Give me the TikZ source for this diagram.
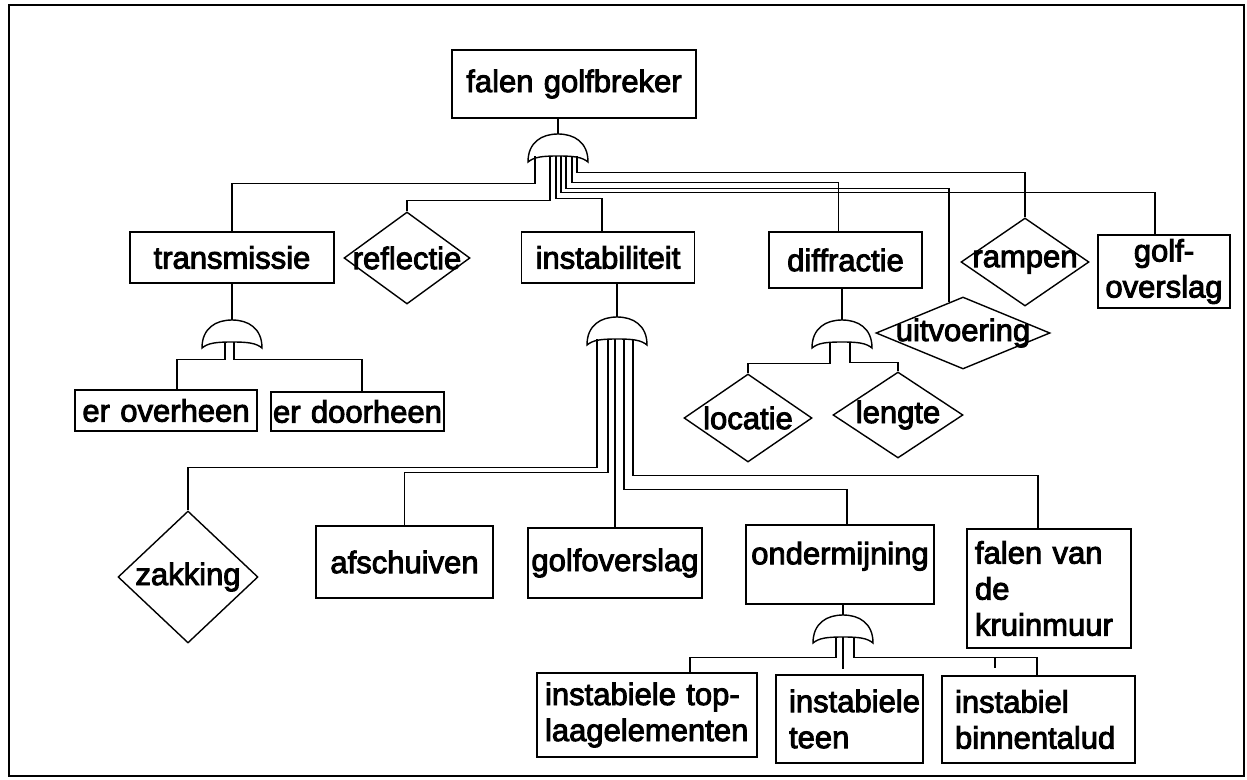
\documentclass[tikz,border=0pt]{standalone}
\usepackage{fontspec}
\newfontfamily\dfont{Liberation Sans}[FakeBold=3]
\usetikzlibrary{shapes.geometric,calc}
\tikzset{
  txt/.style={font=\dfont\fontsize{31}{36}\selectfont},
  ln/.style={line width=1.3pt},
  box/.style={draw, line width=1.5pt, inner sep=0pt, align=center, txt},
  lbox/.style={box, align=left, inner xsep=8pt},
  dia/.style={draw, diamond, line width=1.4pt, inner sep=0pt, txt},
  pics/andgate/.style={code={
    \draw[line width=1.4pt] (-30,28) .. controls (-30,8) and (-16,0) .. (0,0)
      .. controls (16,0) and (30,8) .. (30,28)
      .. controls (24,23) and (16,22) .. (0,22)
      .. controls (-16,22) and (-24,23) .. (-30,28) -- cycle;
    \coordinate (-top) at (0,0);
    \coordinate (-b) at (0,22);
  }}
}
\begin{document}
\begin{tikzpicture}[x=1pt,y=-1pt]
\useasboundingbox (0,0) rectangle (1247,779);
\draw[line width=2.2pt] (9,5) rectangle (1244,776);

% top level
\node[box, text width=244pt, minimum height=68pt] (top) at (574,84) {\raisebox{5pt}{falen golfbreker}};
\pic (g1) at (558,134) {andgate};

% second level
\node[box, text width=204pt, minimum height=51pt] (trans) at (232,257.5) {transmissie};
\node[dia, minimum width=126pt, minimum height=92pt] (refl) at (407,258) {\makebox[0pt]{reflectie}};
\node[box, text width=173pt, minimum height=51pt] (instab) at (608,257.5) {instabiliteit};
\node[box, text width=153pt, minimum height=56pt] (diffr) at (845.5,260) {diffractie};
\node[dia, minimum width=128pt, minimum height=88pt] (ramp) at (1025,262) {\makebox[0pt]{rampen}};
\node[box, text width=132pt, minimum height=73pt] (gov) at (1164,271.5) {golf-\\overslag};
\node[dia, minimum width=174pt, minimum height=72pt] (uitv) at (963,333) {\makebox[0pt]{uitvoering}};

% gates level 2
\pic (gT) at (232,320) {andgate};
\pic (gI) at (617,317) {andgate};
\pic (gD) at (842,320) {andgate};

% third level
\node[box, text width=182pt, minimum height=41pt] (erover) at (166,410.5) {er overheen};
\node[box, text width=173pt, minimum height=39pt] (erdoor) at (357.5,411.5) {er doorheen};
\node[dia, minimum width=128pt, minimum height=88pt] (loc) at (748,418) {\makebox[0pt]{locatie}};
\node[dia, minimum width=130pt, minimum height=86pt] (len) at (898,415) {\makebox[0pt]{lengte}};

\node[dia, minimum width=140pt, minimum height=132pt] (zak) at (188,577) {\makebox[0pt]{zakking}};
\node[box, text width=177pt, minimum height=72pt] (afs) at (404.5,562) {afschuiven};
\node[box, text width=174pt, minimum height=70pt] (gov2) at (615,563) {golfoverslag};
\node[box, text width=188pt, minimum height=79pt,
  label={[txt, anchor=north, yshift=-14pt]north:ondermijning}] (ond) at (840,564.5) {};
\node[lbox, text width=148pt, minimum height=119pt] (kruin) at (1049,588.5) {falen van\\de\\kruinmuur};

\pic (gO) at (843,615) {andgate};

\node[lbox, text width=204pt, minimum height=84pt] (tla) at (647,715) {instabiele top-\\laagelementen};
\node[lbox, inner xsep=13pt, text width=121pt, minimum height=88pt] (teen) at (849.5,719) {instabiele\\teen};
\node[lbox, inner xsep=13pt, text width=167pt, minimum height=87pt] (binnen) at (1038.5,719.5) {instabiel\\binnentalud};

% connectors from top
\draw[ln] (g1-top) -- (g1-top |- top.south);
\draw[ln] ([xshift=-23pt]g1-b) |- ([yshift=48pt]trans.north) -- (trans.north);
\draw[ln] ([xshift=-8pt]g1-b) |- ([yshift=11pt]refl.north) -- (refl.north);
\draw[ln] ([xshift=-2pt]g1-b) |- ([xshift=-6pt,yshift=33pt]instab.north) -- ([xshift=-6pt]instab.north);
\draw[ln] ([xshift=3pt]g1-b) |- ([xshift=-9pt,yshift=42pt]gov.north) -- ([xshift=-9pt]gov.north);
\coordinate (uitvin) at ($(uitv.north)!0.161!(uitv.west)$);
\draw[ln] ([xshift=8pt]g1-b) |- ([yshift=114pt]uitvin) -- (uitvin);
\draw[ln] ([xshift=14pt]g1-b) |- ([xshift=-7pt,yshift=49pt]diffr.north) -- ([xshift=-7pt]diffr.north);
\draw[ln] ([xshift=19pt]g1-b) |- ([yshift=45pt]ramp.north) -- (ramp.north);

% transmissie
\draw[ln] (gT-top) -- (gT-top |- trans.south);
\draw[ln] ([xshift=-7pt]gT-b) |- ([xshift=11pt,yshift=30pt]erover.north) -- ([xshift=11pt]erover.north);
\draw[ln] ([xshift=2pt]gT-b) |- ([xshift=4.5pt,yshift=32pt]erdoor.north) -- ([xshift=4.5pt]erdoor.north);

% diffractie
\draw[ln] (gD-top) -- (gD-top |- diffr.south);
\draw[ln] ([xshift=-12pt]gD-b) |- ([yshift=10pt]loc.north) -- (loc.north);
\draw[ln] ([xshift=8pt]gD-b) |- ([yshift=9pt]len.north) -- (len.north);

% instabiliteit
\draw[ln] (gI-top) -- (gI-top |- instab.south);
\draw[ln] ([xshift=-20pt]gI-b) |- ([yshift=43pt]zak.north) -- (zak.north);
\draw[ln] ([xshift=-9pt]gI-b) |- ([yshift=53pt]afs.north) -- (afs.north);
\draw[ln] ([xshift=-2pt]gI-b) -- (gov2.north);
\draw[ln] ([xshift=7pt]gI-b) |- ([xshift=7pt,yshift=35pt]ond.north) -- ([xshift=7pt]ond.north);
\draw[ln] ([xshift=16pt]gI-b) |- ([xshift=-11pt,yshift=53pt]kruin.north) -- ([xshift=-11pt]kruin.north);

% ondermijning
\draw[ln] (gO-top) -- (gO-top |- ond.south);
\draw[ln] ([xshift=-7pt]gO-b) |- ([xshift=43pt,yshift=15pt]tla.north) -- ([xshift=43pt]tla.north);
\draw[ln] (gO-b) -- ([yshift=5pt]gO-b |- teen.north);
\draw[ln] ([xshift=11pt]gO-b) |- ([xshift=-1.5pt,yshift=18pt]binnen.north) -- ([xshift=-1.5pt]binnen.north);
\coordinate (stub) at (995,668);
\draw[ln] (stub |- 0,658) -- (stub);
\end{tikzpicture}
\end{document}
